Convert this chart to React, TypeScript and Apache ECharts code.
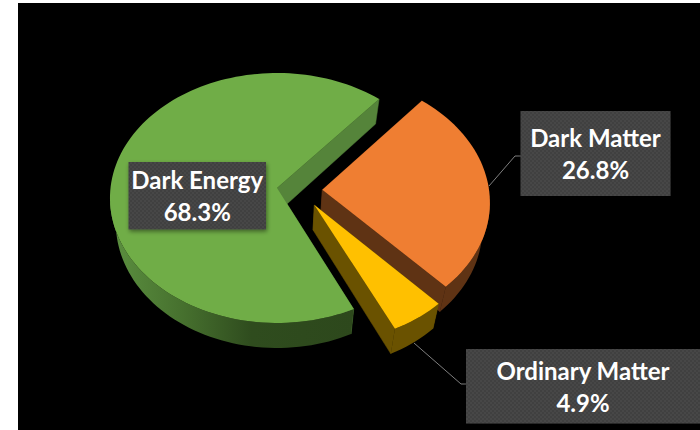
import React, { useEffect, useRef } from "react";
import * as echarts from "echarts";

// Composition of the universe, percent of total energy density.
const categories = ["Dark Energy", "Dark Matter", "Ordinary Matter"];
const shares = [68.3, 26.8, 4.9];

const topColors = ["#70AD47", "#EF7E32", "#FFC000"];
const innerWallColors = ["#55843A", "#5F3314", "#6A5200"];
const outerWallStops = [
  [[0, "#5C9040"], [0.3, "#46702E"], [0.58, "#2F4C1E"], [1, "#2D481C"]],
  [[0, "#5F3314"], [1, "#5F3314"]],
  [[0, "#6A5200"], [1, "#6A5200"]],
];

// Tilted-disc camera: a unit disc is projected with a mild perspective.
const CX = 277;
const CY = 188;
const RX = 166.5;
const RY = 124.2;
const PERSPECTIVE = 0.08;
const START_DEG = -64.7;
const THICKNESS = 25;
const FLOOR_SCALE = 0.965;

// Displacement of each exploded slice in disc units.
const explodeOffsets = [[0, 0], [0.272, 0.015], [0.222, 0.1355]];

type Callout = { box: number[]; leader: number[][] };
const callouts: Callout[] = [
  { box: [128.5, 162, 137.5, 67.5], leader: [] },
  { box: [520.5, 111, 150, 85], leader: [[489, 186], [515, 156], [521, 156]] },
  { box: [466, 349, 234, 74.5], leader: [[414, 343], [461, 384], [466, 384]] },
];

// Fine halftone tile used as the callout background.
function makeCalloutTile(): HTMLCanvasElement {
  const tile = document.createElement("canvas");
  tile.width = 4;
  tile.height = 4;
  const ctx = tile.getContext("2d")!;
  ctx.fillStyle = "#3F3F3F";
  ctx.fillRect(0, 0, 4, 4);
  ctx.fillStyle = "#464646";
  ctx.fillRect(0, 0, 2, 2);
  ctx.fillRect(2, 2, 2, 2);
  return tile;
}

function project(u: number, v: number): number[] {
  const w = 1 - PERSPECTIVE * v;
  return [CX + (RX * u) / w, CY + (RY * v) / w];
}

function toFloor(p: number[]): number[] {
  return [CX + (p[0] - CX) * FLOOR_SCALE, p[1] + THICKNESS];
}

function makeRenderer(tile: HTMLCanvasElement) {
  return function renderSlice(params: any, api: any) {
    const i = params.dataIndex;
    const value = api.value(0) as number;
    const before = shares.slice(0, i).reduce((a, b) => a + b, 0);
    const total = shares.reduce((a, b) => a + b, 0);
    const a0 = START_DEG - (before / total) * 360;
    const a1 = a0 - (value / total) * 360;
    const [ox, oy] = explodeOffsets[i];

    const steps = Math.max(8, Math.round(Math.abs(a1 - a0) / 2));
    const arc: number[][] = [];
    const front: number[][] = [];
    for (let s = 0; s <= steps; s++) {
      const t = ((a0 + ((a1 - a0) * s) / steps) * Math.PI) / 180;
      const u = Math.cos(t);
      const v = -Math.sin(t);
      const p = project(u + ox, v + oy);
      arc.push(p);
      if (v >= 0.08) front.push(p);
    }
    const apex = project(ox, oy);
    const first = arc[0];
    const last = arc[arc.length - 1];

    const wall = (a: number[], b: number[], color: string) => ({
      type: "polygon",
      shape: { points: [a, b, toFloor(b), toFloor(a)] },
      style: { fill: color, stroke: color, lineWidth: 0.5 },
    });

    const xs = front.map((p) => p[0]);
    const gradient = new echarts.graphic.LinearGradient(
      Math.min(...xs), 0, Math.max(...xs), 0,
      outerWallStops[i].map(([offset, color]) => ({ offset: offset as number, color: color as string })),
      true,
    );

    const children: any[] = [
      wall(apex, first, innerWallColors[i]),
      wall(apex, last, innerWallColors[i]),
      {
        type: "polygon",
        shape: { points: [...front, ...front.map(toFloor).reverse()] },
        style: { fill: gradient },
      },
      {
        type: "polygon",
        shape: { points: [apex, ...arc] },
        style: { fill: topColors[i] },
      },
    ];

    const c = callouts[i];
    if (c.leader.length) {
      children.push({
        type: "polyline",
        shape: { points: c.leader },
        style: { fill: "none", stroke: "#7F7F7F", lineWidth: 1 },
      });
    }
    const [bx, by, bw, bh] = c.box;
    children.push({
      type: "rect",
      shape: { x: bx, y: by, width: bw, height: bh },
      style: {
        fill: { image: tile, repeat: "repeat" },
        shadowBlur: 4,
        shadowOffsetX: 1,
        shadowOffsetY: 2,
        shadowColor: "rgba(0,0,0,0.45)",
      },
    });
    children.push({
      type: "text",
      style: {
        text: `${categories[i]}\n${value}%`,
        x: bx + bw / 2,
        y: by + bh / 2,
        align: "center",
        verticalAlign: "middle",
        fill: "#FFFFFF",
        font: "bold 24px Lato",
        lineHeight: 32,
      },
    });

    return { type: "group", children };
  };
}

export default function App() {
  const ref = useRef<HTMLDivElement>(null);
  useEffect(() => {
    document.body.style.margin = "0";
    document.body.style.background = "#FFFFFF";
    const chart = echarts.init(ref.current!, undefined, { renderer: "svg" });
    chart.setOption({
      animation: false,
      backgroundColor: "#FFFFFF",
      graphic: [
        {
          type: "rect",
          z: -10,
          shape: { x: 18, y: 3, width: 682, height: 427 },
          style: { fill: "#000000" },
        },
      ],
      series: [
        {
          type: "custom",
          coordinateSystem: "none",
          silent: true,
          data: shares.map((value, i) => ({ name: categories[i], value })),
          renderItem: makeRenderer(makeCalloutTile()),
        },
      ],
    });
    return () => chart.dispose();
  }, []);
  return <div ref={ref} style={{ width: 700, height: 430 }} />;
}
